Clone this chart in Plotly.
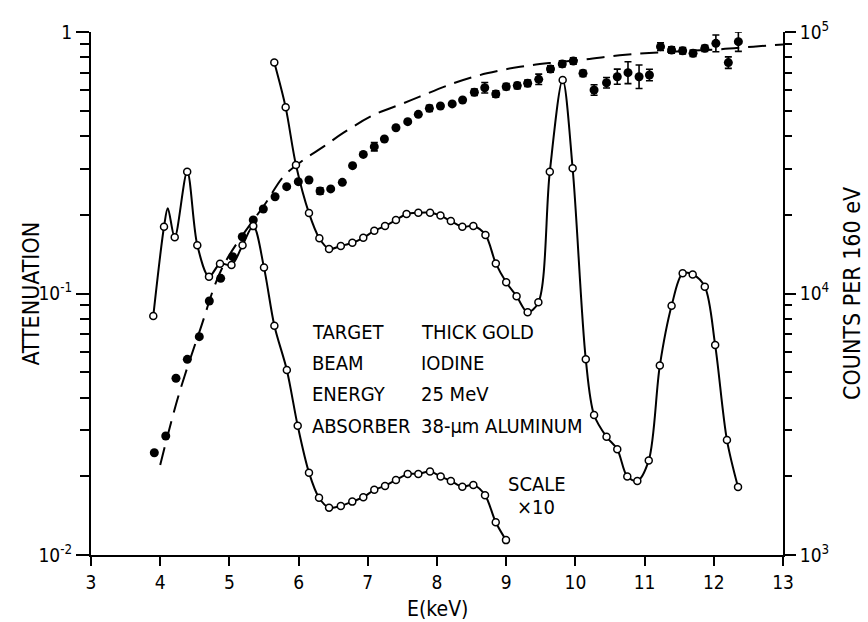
import plotly.graph_objects as go
import numpy as np

FONT = "Liberation Sans Narrow, DejaVu Sans Condensed, Arial Narrow, sans-serif"

# ---------------- data ----------------
# Spectrum (open circles), counts per 160 eV, true scale branch
low_E = [3.90, 4.055, 4.21, 4.39, 4.536, 4.705, 4.864, 5.03, 5.19, 5.345,
         5.50, 5.65, 5.83, 5.987, 6.15, 6.295, 6.44, 6.61, 6.776, 6.935,
         7.094, 7.249, 7.407, 7.577, 7.73, 7.899, 8.053, 8.20, 8.366, 8.525,
         8.694, 8.849, 8.997]
low_C = [8200, 18000, 16400, 29200, 15300, 11600, 13000, 12850, 15300, 18100,
         12560, 7530, 5100, 3120, 2065, 1655, 1517, 1540, 1600, 1663,
         1775, 1837, 1936, 2042, 2042, 2084, 1995, 1919, 1824, 1854,
         1694, 1334, 1140]
# unmarked knot of the drawn curve (small peak between markers)
low_knot_E = [4.11]
low_knot_C = [21200]

# Spectrum, x10 branch
up_E = [5.649, 5.813, 5.962, 6.15, 6.30, 6.44, 6.61, 6.777, 6.935, 7.094,
        7.249, 7.407, 7.56, 7.73, 7.90, 8.05, 8.20, 8.366, 8.525, 8.70,
        8.85, 9.00, 9.15, 9.31, 9.465, 9.63, 9.816, 9.96, 10.15, 10.27,
        10.45, 10.605, 10.75, 10.895, 11.06, 11.22, 11.39, 11.55, 11.695, 11.87,
        12.02, 12.19, 12.35]
up_C = [76400, 51500, 31000, 20300, 16260, 14800, 15200, 15630, 16330, 17380,
        18110, 19100, 20140, 20370, 20370, 19860, 18920, 17990, 18110, 16750,
        13030, 11040, 9770, 8470, 9250, 29240, 65530, 30130, 5600, 3430,
        2830, 2540, 1995, 1920, 2300, 5300, 8970, 11940, 11830, 10620,
        6350, 2750, 1820]

# Measured attenuation (filled circles): energy, decades below 1, error half-width (decades)
att_E = [3.915, 4.08, 4.228, 4.392, 4.565, 4.71, 4.874, 5.047, 5.186, 5.345,
         5.49, 5.66, 5.828, 5.996, 6.15, 6.31, 6.464, 6.632, 6.78, 6.935,
         7.094, 7.24, 7.407, 7.577, 7.73, 7.89, 8.05, 8.22, 8.37, 8.54,
         8.69, 8.85, 9.00, 9.16, 9.31, 9.47, 9.64, 9.81, 9.97, 10.11,
         10.27, 10.45, 10.605, 10.76, 10.92, 11.07, 11.23, 11.39, 11.55, 11.70,
         11.87, 12.03, 12.21, 12.355]
att_dec = [1.609, 1.545, 1.324, 1.2517, 1.165, 1.0287, 0.942, 0.859, 0.783, 0.719,
           0.677, 0.630, 0.5915, 0.5724, 0.566, 0.608, 0.600, 0.575, 0.511, 0.468,
           0.4385, 0.409, 0.366, 0.343, 0.315, 0.292, 0.283, 0.275, 0.260, 0.2306,
           0.213, 0.237, 0.209, 0.205, 0.196, 0.181, 0.1415, 0.122, 0.111, 0.158,
           0.222, 0.194, 0.171, 0.1555, 0.171, 0.1645, 0.056, 0.069, 0.0715, 0.0815,
           0.0624, 0.0433, 0.117, 0.037]
att_err = [0, 0, 0, 0, 0, 0, 0, 0, 0, 0,
           0, 0, 0, 0, 0, 0.012, 0, 0, 0, 0,
           0.016, 0, 0, 0, 0, 0.012, 0, 0, 0, 0.012,
           0.02, 0.012, 0.012, 0.012, 0.012, 0.02, 0.012, 0.012, 0.012, 0.012,
           0.02, 0.02, 0.029, 0.042, 0.045, 0.022, 0.015, 0.012, 0.012, 0.012,
           0.012, 0.032, 0.022, 0.037]

# Calculated attenuation (dashed curve): energy, decades below 1
calc_E = [4.0, 4.26, 4.575, 4.91, 5.54, 5.78, 6.07, 6.36, 6.65, 7.08,
          7.51, 7.75, 8.24, 8.72, 9.2, 9.68, 10.16, 10.64, 11.13, 12.09,
          12.57, 13.0]
calc_dec = [1.656, 1.395, 1.14, 0.895, 0.648, 0.553, 0.489, 0.4385, 0.385, 0.318,
            0.273, 0.247, 0.196, 0.158, 0.133, 0.117, 0.1045, 0.089, 0.079, 0.066,
            0.056, 0.048]

x_ticks = list(range(3, 14))
left_ticks = [0.01, 0.1, 1]
left_text = ["10<sup>-2</sup>", "10<sup>-1</sup>", "1"]
right_ticks = [1e3, 1e4, 1e5]
right_text = ["10<sup>3</sup>", "10<sup>4</sup>", "10<sup>5</sup>"]

info_labels = ["TARGET", "BEAM", "ENERGY", "ABSORBER"]
info_values = ["THICK GOLD", "IODINE", "25 MeV", "38-\u03bcm ALUMINUM"]

# ---------------- derived ----------------
att = [10 ** (-d) for d in att_dec]
att_hi = [10 ** (-d + e) - 10 ** (-d) for d, e in zip(att_dec, att_err)]
att_lo = [10 ** (-d) - 10 ** (-d - e) for d, e in zip(att_dec, att_err)]
calc = [10 ** (-d) for d in calc_dec]

lowline = sorted(zip(low_E + low_knot_E, low_C + low_knot_C))
lowline_E = [p[0] for p in lowline]
lowline_C = [p[1] for p in lowline]

minor_left = [m * 10.0 ** k for k in (-2, -1) for m in range(2, 10)]
minor_right = [m * 10.0 ** k for k in (3, 4) for m in range(2, 10)]

fig = go.Figure()

fig.add_trace(go.Scatter(
    x=calc_E, y=calc, mode="lines",
    line=dict(color="black", width=2, dash="18px,9px", shape="spline", smoothing=1.0),
    showlegend=False, hoverinfo="skip"))

fig.add_trace(go.Scatter(
    x=att_E, y=att, mode="markers",
    marker=dict(color="black", size=9, symbol="circle"),
    error_y=dict(type="data", symmetric=False, array=att_hi, arrayminus=att_lo,
                 color="black", thickness=1.6, width=3.5),
    showlegend=False))

for xs, ys in ((lowline_E, lowline_C), (up_E, up_C)):
    fig.add_trace(go.Scatter(
        x=xs, y=ys, yaxis="y2", mode="lines",
        line=dict(color="black", width=2, shape="spline", smoothing=0.9),
        showlegend=False, hoverinfo="skip"))

for xs, ys in ((low_E, low_C), (up_E, up_C)):
    fig.add_trace(go.Scatter(
        x=xs, y=ys, yaxis="y2", mode="markers",
        marker=dict(color="white", size=7, symbol="circle",
                    line=dict(color="black", width=1.5)),
        showlegend=False))

annotations = []
for i, (lab, val) in enumerate(zip(info_labels, info_values)):
    yp = -(1.146 + 0.1198 * i)
    annotations.append(dict(x=6.165, y=yp, xref="x", yref="y", text=lab,
                            showarrow=False, xanchor="left", yanchor="middle",
                            font=dict(size=20, family=FONT, color="black")))
    annotations.append(dict(x=7.74, y=yp, xref="x", yref="y", text=val,
                            showarrow=False, xanchor="left", yanchor="middle",
                            font=dict(size=20, family=FONT, color="black")))
annotations.append(dict(x=9.0, y=-1.728, xref="x", yref="y", text="SCALE",
                        showarrow=False, xanchor="left", yanchor="middle",
                        font=dict(size=20, family=FONT, color="black")))
annotations.append(dict(x=9.13, y=-1.815, xref="x", yref="y", text="\u00d710",
                        showarrow=False, xanchor="left", yanchor="middle",
                        font=dict(size=20, family=FONT, color="black")))
annotations.append(dict(x=-0.088, y=0.5, xref="paper", yref="paper", text="ATTENUATION",
                        textangle=-90, showarrow=False, xanchor="center", yanchor="middle",
                        font=dict(size=23, family=FONT, color="black")))
annotations.append(dict(x=1.099, y=0.5, xref="paper", yref="paper", text="COUNTS PER 160 eV",
                        textangle=-90, showarrow=False, xanchor="center", yanchor="middle",
                        font=dict(size=23, family=FONT, color="black")))
annotations.append(dict(x=0.5, y=-0.104, xref="paper", yref="paper", text="E(keV)",
                        showarrow=False, xanchor="center", yanchor="middle",
                        font=dict(size=21, family=FONT, color="black")))

fig.update_layout(
    width=868, height=622,
    margin=dict(l=91, r=85, t=32, b=67),
    paper_bgcolor="white", plot_bgcolor="white",
    font=dict(family=FONT, size=19, color="black"),
    showlegend=False,
    annotations=annotations,
    xaxis=dict(range=[3, 13], tickvals=x_ticks, ticks="outside", ticklen=9,
               tickwidth=1.8, tickcolor="black", showline=True, linecolor="black",
               linewidth=2, showgrid=False, zeroline=False,
               tickfont=dict(size=19, family=FONT)),
    xaxis2=dict(range=[3, 13], overlaying="x", side="top", tickvals=x_ticks,
                ticks="inside", ticklen=11, tickwidth=1.8, tickcolor="black",
                showticklabels=False, showline=True, linecolor="black",
                linewidth=2, showgrid=False, zeroline=False),
    yaxis=dict(type="log", range=[-2, 0], tickvals=left_ticks, ticktext=left_text,
               ticks="outside", ticklen=13, tickwidth=1.8, tickcolor="black",
               showline=True, linecolor="black", linewidth=2, showgrid=False,
               zeroline=False, tickfont=dict(size=19, family=FONT),
               minor=dict(tickvals=minor_left, ticks="outside", ticklen=9,
                          tickwidth=1.5, tickcolor="black", showgrid=False)),
    yaxis2=dict(type="log", range=[3, 5], overlaying="y", side="right",
                tickvals=right_ticks, ticktext=right_text,
                ticks="outside", ticklen=11, tickwidth=1.8, tickcolor="black",
                showline=True, linecolor="black", linewidth=2, showgrid=False,
                zeroline=False, tickfont=dict(size=19, family=FONT),
                minor=dict(tickvals=minor_right, ticks="outside", ticklen=7,
                           tickwidth=1.5, tickcolor="black", showgrid=False)),
)

fig.write_html("out.html")
